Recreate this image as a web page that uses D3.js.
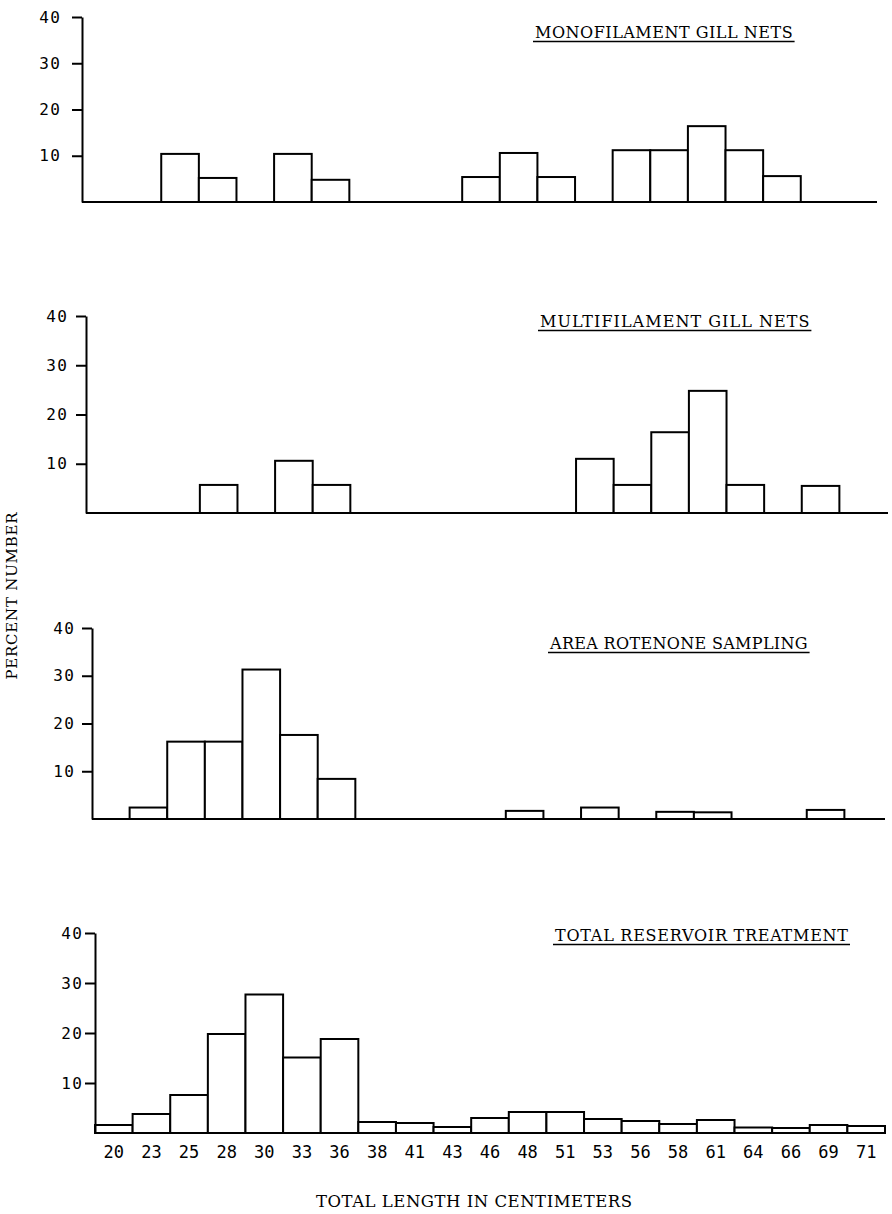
<!DOCTYPE html>
<html>
<head>
<meta charset="utf-8">
<script src="https://cdn.jsdelivr.net/npm/d3@7"></script>
<style>
  html, body { margin: 0; padding: 0; background: #fff; }
  svg { display: block; }
</style>
</head>
<body>
<svg id="chart" width="892" height="1214"></svg>
<script>
// ---- DATA ----
const lengthLabels = ["20","23","25","28","30","33","36","38","41","43","46","48","51","53","56","58","61","64","66","69","71"];
const monofilament  = [0,0,10.4,5.2,0,10.4,4.8,0,0,0,5.4,10.6,5.4,0,11.2,11.2,16.4,11.2,5.6,0,0];
const multifilament = [0,0,0,5.7,0,10.6,5.7,0,0,0,0,0,0,11.0,5.7,16.4,24.8,5.7,0,5.5,0];
const rotenone      = [0,2.4,16.2,16.2,31.3,17.6,8.4,0,0,0,0,1.7,0,2.4,0,1.5,1.4,0,0,1.9,0];
const totalTreat    = [1.6,3.8,7.6,19.8,27.7,15.1,18.8,2.2,2.0,1.2,3.0,4.2,4.2,2.8,2.4,1.8,2.6,1.1,1.0,1.6,1.4];
const panelTitles = ["MONOFILAMENT GILL NETS","MULTIFILAMENT GILL NETS","AREA ROTENONE SAMPLING","TOTAL RESERVOIR TREATMENT"];
const yTicks = [10,20,30,40];
const yMax = 40;
const yAxisTitle = "PERCENT NUMBER";
const xAxisTitle = "TOTAL LENGTH IN CENTIMETERS";

// ---- LAYOUT ----
const series = [monofilament, multifilament, rotenone, totalTreat];
const layout = [
  {axisX:82, binStart:86, baseY:202,  topY:17,  lineEnd:877, tickPad:12, titleX:535, titleY:38},
  {axisX:86, binStart:87, baseY:513,  topY:316, lineEnd:888, tickPad:9,  titleX:540, titleY:327},
  {axisX:92, binStart:92, baseY:819,  topY:628, lineEnd:885, tickPad:8,  titleX:550, titleY:649},
  {axisX:95, binStart:95, baseY:1133, topY:933, lineEnd:885, tickPad:3,  titleX:555, titleY:941}
];
const binSpan = 790;
const charPitch = 11.8;       // typewriter pitch for titles
const SERIF = "'DejaVu Serif', 'Liberation Serif', serif";
const SANSMONO = "'DejaVu Sans Mono', monospace";

const svg = d3.select("#chart");

series.forEach((vals, p) => {
  const L = layout[p];
  const g = svg.append("g");
  const x = d3.scaleBand().domain(d3.range(lengthLabels.length))
    .range([L.binStart, L.binStart + binSpan]).padding(0);
  const y = d3.scaleLinear().domain([0, yMax]).range([L.baseY, L.topY]);

  // baseline
  g.append("line")
    .attr("x1", L.axisX).attr("x2", L.lineEnd)
    .attr("y1", L.baseY).attr("y2", L.baseY)
    .attr("stroke", "#000").attr("stroke-width", 2);

  // bars
  g.selectAll("rect.bar")
    .data(vals.map((v, i) => ({v, i})).filter(d => d.v > 0))
    .join("rect")
    .attr("class", "bar")
    .attr("x", d => x(d.i))
    .attr("width", x.bandwidth())
    .attr("y", d => y(d.v))
    .attr("height", d => L.baseY - y(d.v))
    .attr("fill", "#fff")
    .attr("stroke", "#000")
    .attr("stroke-width", 2);

  // y axis
  const yAxis = d3.axisLeft(y).tickValues(yTicks).tickSize(10).tickSizeOuter(0)
    .tickPadding(L.tickPad).tickFormat(d3.format("d"));
  const ya = g.append("g").attr("transform", `translate(${L.axisX},0)`).call(yAxis);
  ya.select(".domain").attr("stroke", "#000").attr("stroke-width", 2);
  ya.selectAll(".tick line").attr("stroke", "#000").attr("stroke-width", 2);
  ya.selectAll(".tick text")
    .attr("fill", "#000")
    .style("font-family", SANSMONO)
    .style("font-size", "16px")
    .style("letter-spacing", "1.5px")
    .attr("dx", "1.5px");

  // x axis labels only on bottom panel
  if (p === series.length - 1) {
    const xAxis = d3.axisBottom(x).tickSize(0).tickPadding(13)
      .tickFormat(i => lengthLabels[i]);
    const xa = g.append("g").attr("transform", `translate(0,${L.baseY})`).call(xAxis);
    xa.select(".domain").remove();
    xa.selectAll(".tick text")
      .attr("fill", "#000")
      .style("font-family", SANSMONO)
      .style("font-size", "17px");
  }

  // title with underline
  const title = panelTitles[p];
  const tw = title.length * charPitch;
  g.append("text")
    .attr("x", L.titleX).attr("y", L.titleY)
    .attr("fill", "#000")
    .attr("textLength", tw - 2)
    .attr("lengthAdjust", "spacing")
    .style("font-family", SERIF)
    .style("font-size", "16px")
    .text(title);
  g.append("line")
    .attr("x1", L.titleX - 2).attr("x2", L.titleX + tw)
    .attr("y1", L.titleY + 3.5).attr("y2", L.titleY + 3.5)
    .attr("stroke", "#000").attr("stroke-width", 1.5);
});

// y axis title
svg.append("text")
  .attr("transform", "translate(17,596) rotate(-90)")
  .attr("text-anchor", "middle")
  .attr("fill", "#000")
  .attr("textLength", 167)
  .attr("lengthAdjust", "spacing")
  .style("font-family", SERIF)
  .style("font-size", "15px")
  .text(yAxisTitle);

// x axis title
svg.append("text")
  .attr("x", 474).attr("y", 1207)
  .attr("text-anchor", "middle")
  .attr("fill", "#000")
  .attr("textLength", 316)
  .attr("lengthAdjust", "spacing")
  .style("font-family", SERIF)
  .style("font-size", "16.5px")
  .text(xAxisTitle);
</script>
</body>
</html>
